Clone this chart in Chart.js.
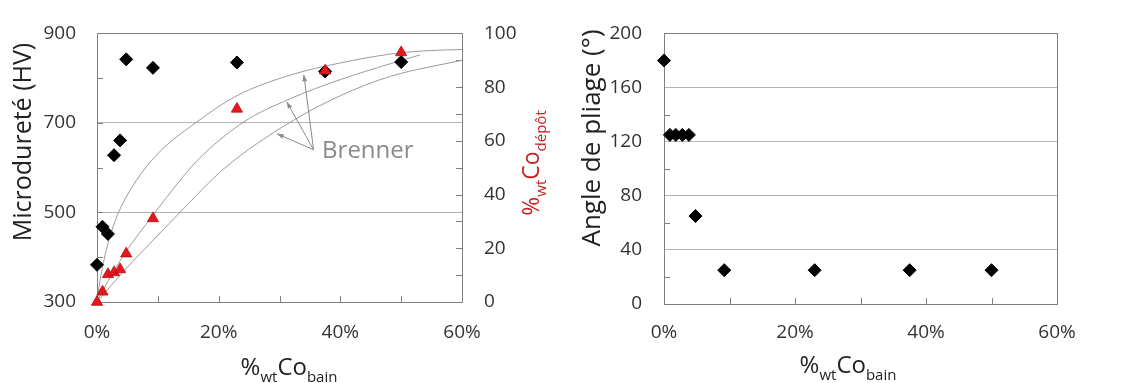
<!DOCTYPE html>
<html>
<head>
<meta charset="utf-8">
<script src="https://cdn.jsdelivr.net/npm/chart.js@4.4.0/dist/chart.umd.min.js"></script>
<style>
  body { margin: 0; background: #fff; width: 1131px; height: 383px; position: relative; overflow: hidden; }
  #c1 { position: absolute; left: 0; top: 0; }
  #c2 { position: absolute; left: 560px; top: 0; }
</style>
</head>
<body>
<canvas id="c1" width="560" height="383"></canvas>
<canvas id="c2" width="571" height="383"></canvas>
<script>
// --- data ---
const bathCo = [0, 0.9, 1.8, 2.8, 3.8, 4.8, 9.2, 23, 37.5, 50];          // %wt Co in bath
const hardness = [383, 468, 452, 628, 661, 842, 823, 835, 815, 836];      // HV
const depositCo = [0, 3.8, 10.3, 11, 12.1, 18, 31.1, 71.9, 86.1, 92.9];   // %wt Co in deposit
const bendAngle = [180, 125, 125, 125, 125, 65, 25, 25, 25, 25];          // degrees

// Brenner curves (%Co bath -> %Co deposit)
const brennerAX = [0, 0.5, 1.6, 3.3, 6, 9.9, 16.4, 23, 31.8, 40, 48.2, 53.7, 60];
const brennerAY = [0, 8, 20, 32, 43.6, 55, 67, 76.8, 84.5, 89, 92.3, 93.5, 94];
const brennerBX = [0, 1, 4.4, 9.6, 13.2, 16.4, 24.1, 31.8, 40, 48.2, 53.1];
const brennerBY = [0, 4.5, 17.5, 33.5, 44, 52.5, 67, 75.7, 82.8, 88.7, 92];
const brennerCX = [0, 4.4, 9.9, 13.7, 20.8, 31.8, 40, 48.2, 60];
const brennerCY = [0, 11.5, 24.6, 33.5, 49.5, 67, 76.8, 84, 90];

// "Brenner" note: label anchor and arrow tips (x in %Co bath, y in %Co deposit)
const brennerLabel = { x: 37, y: 53.6 };
const arrowFrom = { x: 35.6, y: 56.7 };
const arrowTips = [{ x: 34, y: 84.6 }, { x: 31.2, y: 74.5 }, { x: 29.6, y: 62.6 }];

// tick labels
const bathTicks = [0, 20, 40, 60];
const hardnessTicks = [300, 500, 700, 900];
const depositTicks = [0, 20, 40, 60, 80, 100];
const angleTicks = [0, 40, 80, 120, 160, 200];

const FONT = '"Open Sans", "DejaVu Sans", sans-serif';
const tickFont = { family: FONT, size: 19 };
const tickColor = '#333';
const gridColor = '#b4b4b4';
const frameColor = '#7f7f7f';
const noteColor = '#8a8a8a';

const pts = (xs, ys) => xs.map((x, i) => ({ x: x, y: ys[i] }));

// frame + small inward ticks
function framePlugin(specs) {
  return {
    id: 'frame',
    beforeDatasetsDraw(chart) {
      const { ctx, chartArea: a } = chart;
      ctx.save();
      ctx.strokeStyle = frameColor;
      ctx.lineWidth = 1;
      ctx.beginPath();
      specs.forEach(s => {
        const sc = chart.scales[s.id];
        s.values.forEach(v => {
          const p = Math.round(sc.getPixelForValue(v)) + 0.5;
          if (s.side === 'bottom') { ctx.moveTo(p, a.bottom); ctx.lineTo(p, a.bottom - 6); }
          else if (s.side === 'left') { ctx.moveTo(a.left, p); ctx.lineTo(a.left + 6, p); }
          else { ctx.moveTo(a.right, p); ctx.lineTo(a.right - 6, p); }
        });
      });
      ctx.stroke();
      ctx.strokeRect(Math.round(a.left) + 0.5, Math.round(a.top) + 0.5,
        Math.round(a.right - a.left), Math.round(a.bottom - a.top));
      ctx.restore();
    }
  };
}

// text with subscripts, centred on cx, baseline at cy
function drawRich(ctx, parts, cx, cy, angle, mainSize, subSize, color) {
  ctx.save();
  ctx.translate(cx, cy);
  ctx.rotate(angle);
  ctx.fillStyle = color;
  ctx.textAlign = 'left';
  ctx.textBaseline = 'alphabetic';
  let total = 0;
  parts.forEach(p => {
    ctx.font = (p.sub ? subSize : mainSize) + 'px ' + FONT;
    p.w = ctx.measureText(p.t).width;
    total += p.w;
  });
  let x = -total / 2;
  parts.forEach(p => {
    ctx.font = (p.sub ? subSize : mainSize) + 'px ' + FONT;
    ctx.fillText(p.t, x, p.sub ? subSize * 0.45 : 0);
    x += p.w;
  });
  ctx.restore();
}

const bathTitle = [{ t: '%' }, { t: 'wt', sub: true }, { t: 'Co' }, { t: 'bain', sub: true }];

const leftTitles = {
  id: 'leftTitles',
  afterDraw(chart) {
    const { ctx, scales } = chart;
    drawRich(ctx, [{ t: 'Microdureté (HV)' }], 30.5, 142, -Math.PI / 2, 25, 25, '#222');
    drawRich(ctx, [{ t: '%' }, { t: 'wt', sub: true }, { t: 'Co' }, { t: 'dépôt', sub: true }],
      539, 163, -Math.PI / 2, 23, 15, '#c8201e');
    drawRich(ctx, bathTitle, 289, 375, 0, 24, 15, '#222');

    // Brenner note
    const x = scales.x, y2 = scales.y2;
    const fx = x.getPixelForValue(arrowFrom.x), fy = y2.getPixelForValue(arrowFrom.y);
    ctx.save();
    ctx.strokeStyle = noteColor;
    ctx.fillStyle = noteColor;
    ctx.lineWidth = 1;
    arrowTips.forEach(t => {
      const tx = x.getPixelForValue(t.x), ty = y2.getPixelForValue(t.y);
      ctx.beginPath();
      ctx.moveTo(fx, fy);
      ctx.lineTo(tx, ty);
      ctx.stroke();
      const ang = Math.atan2(ty - fy, tx - fx);
      ctx.beginPath();
      ctx.moveTo(tx, ty);
      ctx.lineTo(tx - 7 * Math.cos(ang - 0.35), ty - 7 * Math.sin(ang - 0.35));
      ctx.lineTo(tx - 7 * Math.cos(ang + 0.35), ty - 7 * Math.sin(ang + 0.35));
      ctx.closePath();
      ctx.fill();
    });
    ctx.font = '24px ' + FONT;
    ctx.textAlign = 'left';
    ctx.textBaseline = 'alphabetic';
    ctx.fillText('Brenner', x.getPixelForValue(brennerLabel.x), y2.getPixelForValue(brennerLabel.y));
    ctx.restore();
  }
};

const rightTitles = {
  id: 'rightTitles',
  afterDraw(chart) {
    const { ctx } = chart;
    drawRich(ctx, [{ t: 'Angle de pliage (°)' }], 40, 138, -Math.PI / 2, 26, 26, '#222');
    drawRich(ctx, bathTitle, 288, 373, 0, 24, 15, '#222');
  }
};

const curve = (xs, ys) => ({
  type: 'scatter',
  data: pts(xs, ys),
  yAxisID: 'y2',
  showLine: true,
  pointRadius: 0,
  borderColor: '#9a9a9a',
  borderWidth: 1,
  cubicInterpolationMode: 'monotone',
  clip: false
});

const xScale = (pad, h) => ({
  type: 'linear', min: 0, max: 60,
  ticks: {
    stepSize: 10, autoSkip: false, maxRotation: 0, font: tickFont, color: tickColor, padding: pad,
    callback: v => bathTicks.includes(v) ? v + '%' : ''
  },
  grid: { display: false, drawTicks: false },
  border: { display: false },
  afterFit: s => { s.height = h; }
});

new Chart(document.getElementById('c1'), {
  type: 'scatter',
  data: {
    datasets: [
      {
        data: pts(bathCo, depositCo), yAxisID: 'y2',
        pointStyle: 'triangle', pointRadius: 6.5,
        backgroundColor: '#e5161c', borderColor: '#b01010', borderWidth: 0.8, clip: false
      },
      {
        data: pts(bathCo, hardness), yAxisID: 'y',
        pointStyle: 'rectRot', pointRadius: 6.5,
        backgroundColor: '#000', borderColor: '#000', borderWidth: 1, clip: false
      },
      curve(brennerAX, brennerAY),
      curve(brennerBX, brennerBY),
      curve(brennerCX, brennerCY)
    ]
  },
  options: {
    responsive: false,
    animation: false,
    events: [],
    layout: { padding: { top: 22, left: 0, right: 0, bottom: 0 } },
    plugins: { legend: { display: false }, tooltip: { enabled: false } },
    scales: {
      x: xScale(19, 81),
      y: {
        type: 'linear', position: 'left', min: 300, max: 900,
        ticks: {
          stepSize: 100, font: tickFont, color: tickColor, padding: 21,
          callback: v => hardnessTicks.includes(v) ? String(v) : ''
        },
        grid: {
          drawTicks: false,
          color: c => (c.tick && (c.tick.value === 500 || c.tick.value === 700)) ? gridColor : 'rgba(0,0,0,0)'
        },
        border: { display: false },
        afterFit: s => { s.width = 97; }
      },
      y2: {
        type: 'linear', position: 'right', min: 0, max: 100,
        ticks: {
          stepSize: 10, font: tickFont, color: tickColor, padding: 22,
          callback: v => depositTicks.includes(v) ? String(v) : ''
        },
        grid: { display: false, drawTicks: false },
        border: { display: false },
        afterFit: s => { s.width = 98; }
      }
    }
  },
  plugins: [
    framePlugin([
      { id: 'x', side: 'bottom', values: [10, 20, 30, 40, 50] },
      { id: 'y', side: 'left', values: [400, 500, 600, 700, 800] },
      { id: 'y2', side: 'right', values: [10, 20, 30, 40, 50, 60, 70, 80, 90] }
    ]),
    leftTitles
  ]
});

new Chart(document.getElementById('c2'), {
  type: 'scatter',
  data: {
    datasets: [
      {
        data: pts(bathCo, bendAngle),
        pointStyle: 'rectRot', pointRadius: 6.5,
        backgroundColor: '#000', borderColor: '#000', borderWidth: 1, clip: false
      }
    ]
  },
  options: {
    responsive: false,
    animation: false,
    events: [],
    layout: { padding: { top: 21, left: 0, right: 74, bottom: 0 } },
    plugins: { legend: { display: false }, tooltip: { enabled: false } },
    scales: {
      x: xScale(17, 79),
      y: {
        type: 'linear', position: 'left', min: 0, max: 200,
        ticks: {
          stepSize: 20, font: tickFont, color: tickColor, padding: 22,
          callback: v => angleTicks.includes(v) ? String(v) : ''
        },
        grid: {
          drawTicks: false,
          color: c => (c.tick && angleTicks.includes(c.tick.value) && c.tick.value > 0 && c.tick.value < 200) ? gridColor : 'rgba(0,0,0,0)'
        },
        border: { display: false },
        afterFit: s => { s.width = 104; }
      }
    }
  },
  plugins: [
    framePlugin([
      { id: 'x', side: 'bottom', values: [10, 20, 30, 40, 50] },
      { id: 'y', side: 'left', values: [20, 60, 100, 140, 180] }
    ]),
    rightTitles
  ]
});
</script>
</body>
</html>
